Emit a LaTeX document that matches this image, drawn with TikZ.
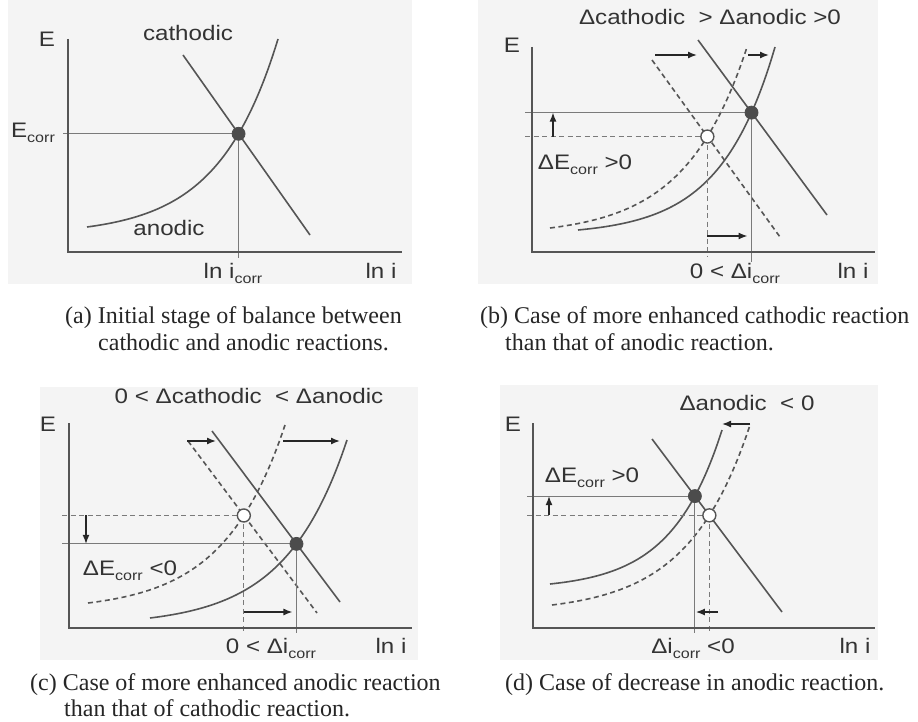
\documentclass[tikz,border=0pt]{standalone}
\usepackage{graphicx}
\usepackage{fontspec}
\setmainfont{Liberation Sans}
\newfontfamily\capfont{Liberation Serif}
\usetikzlibrary{intersections,arrows.meta}
\definecolor{curvec}{HTML}{555555}
\definecolor{guidec}{HTML}{7A7A7A}
\definecolor{txtc}{HTML}{333333}
\definecolor{bgc}{HTML}{F4F4F4}
\newcommand{\lbl}[1]{\scalebox{1.15}[1]{\fontsize{21}{25}\selectfont #1}}
\newcommand{\sbc}{\raisebox{-5pt}{\fontsize{14}{14}\selectfont corr}}
\newcommand{\capt}[1]{{\capfont\fontsize{24}{27}\selectfont #1}}
\begin{document}
\begin{tikzpicture}[x=1pt, y=-1pt,
  curve/.style={draw=curvec, line width=1.6pt},
  dcurve/.style={curve, dash pattern=on 5pt off 3.5pt},
  axis/.style={draw=curvec, line width=2pt},
  guide/.style={draw=guidec, line width=1.1pt},
  dguide/.style={guide, dash pattern=on 5pt off 3.5pt},
  arr/.style={draw=black!85, line width=1.4pt, -{Latex[length=9pt,width=7pt]}},
  lab/.style={text=txtc, inner sep=0pt, anchor=base},
  capnode/.style={text=black!85, inner sep=0pt, anchor=base west},
  fdot/.style={circle, fill=curvec!90!black, draw=black!70, line width=0.8pt, minimum size=13pt, inner sep=0pt},
  odot/.style={circle, fill=white, draw=curvec, line width=1.4pt, minimum size=13pt, inner sep=0pt}]
\useasboundingbox (0,0) rectangle (918,722);
\fill[white] (0,0) rectangle (918,722);
% backgrounds
\fill[bgc] (8,0) rectangle (412,284);
\fill[bgc] (478,0) rectangle (878,284);
\fill[bgc] (40,387) rectangle (418,660);
\fill[bgc] (500,385) rectangle (878,660);

% ================= panel (a)
\coordinate (aYt) at (68,39); \coordinate (aO) at (68,252); \coordinate (aXr) at (402,252);
\coordinate (aL) at (63,0); \coordinate (aB) at (0,258);
\draw[curve, name path=aca] (183,55) -- (310,235);
\draw[curve, name path=aan] plot[domain=87:278, samples=70, smooth] (\x,{227-(227-39)*(exp(3.2*(\x-87)/(278-87))-1)/(exp(3.2)-1)});
\path[name intersections={of=aca and aan, by=aP}];
\draw[guide] (aL |- aP) -- (aP);
\draw[guide] (aP) -- (aP |- aB);
\draw[axis] (aYt) -- (aO) -- (aXr);
\node[fdot] (aDot) at (aP) {};
\node[lab] (aE) at (47,47) {\lbl{E}};
\node[lab] (aCat) at (188,41) {\lbl{cathodic}};
\node[lab] (aEc) at (33,138) {\lbl{E\sbc}};
\node[lab] (aAn) at (169,235) {\lbl{anodic}};
\node[lab] (aLic) at (233,278) {\lbl{ln i\sbc}};
\node[lab] (aLi) at (381,278) {\lbl{ln i}};

% ================= panel (b)
\coordinate (bYt) at (532,47); \coordinate (bO) at (532,252); \coordinate (bXr) at (875,252);
\coordinate (bL) at (525,0); \coordinate (bB) at (0,262); \coordinate (bB2) at (0,257);
\draw[curve, name path=bcs] (698,40) -- (827,215);
\draw[dcurve, name path=bcd] (652,60) -- (780,237);
\draw[curve, name path=bas] plot[domain=578:775, samples=70, smooth] (\x,{230-(230-47)*(exp(3.6*(\x-578)/(775-578))-1)/(exp(3.6)-1)});
\draw[dcurve, name path=bad] plot[domain=550:747, samples=70, smooth] (\x,{228-(228-47)*(exp(3.2*(\x-550)/(747-550))-1)/(exp(3.2)-1)});
\path[name intersections={of=bcs and bas, by=bF}];
\path[name intersections={of=bcd and bad, by=bOp}];
\draw[guide] (bL |- bF) -- (bF);
\draw[guide] (bF) -- (bF |- bB);
\draw[dguide] (bL |- bOp) -- (bOp);
\draw[dguide] (bOp) -- (bOp |- bB2);
\draw[axis] (bYt) -- (bO) -- (bXr);
\coordinate (bUp) at (553,0); \coordinate (bAr) at (0,236);
\draw[arr] (bUp |- bOp) -- (bUp |- bF);
\draw[arr, shorten >=4pt] (bOp |- bAr) -- (bF |- bAr);
\coordinate (bT1s) at (655,55); \coordinate (bT1e) at (697,55);
\coordinate (bT2s) at (748,55); \coordinate (bT2e) at (769,55);
\draw[arr] (bT1s) -- (bT1e);
\draw[arr] (bT2s) -- (bT2e);
\node[fdot] (bDotF) at (bF) {};
\node[odot] (bDotO) at (bOp) {};
\node[lab] (bTitle) at (710,25) {\lbl{Δcathodic~~> Δanodic >0}};
\node[lab] (bE) at (512,53) {\lbl{E}};
\node[lab] (bdE) at (585,170) {\lbl{ΔE\sbc{} >0}};
\node[lab] (bdi) at (735,278) {\lbl{0 < Δi\sbc}};
\node[lab] (bLi) at (853,278) {\lbl{ln i}};

% ================= panel (c)
\coordinate (cYt) at (69,423); \coordinate (cO) at (69,628); \coordinate (cXr) at (412,628);
\coordinate (cL) at (62,0); \coordinate (cB) at (0,633);
\draw[curve, name path=ccs] (212,431) -- (340,602);
\draw[dcurve, name path=ccd] (188,441) -- (317,613);
\draw[curve, name path=cas] plot[domain=150:347, samples=70, smooth] (\x,{618-(618-440)*(exp(3.2*(\x-150)/(347-150))-1)/(exp(3.2)-1)});
\draw[dcurve, name path=cad] plot[domain=88:285, samples=70, smooth] (\x,{603-(603-425)*(exp(3.2*(\x-88)/(285-88))-1)/(exp(3.2)-1)});
\path[name intersections={of=ccs and cas, by=cF}];
\path[name intersections={of=ccd and cad, by=cOp}];
\draw[guide] (cL |- cF) -- (cF);
\draw[guide] (cF) -- (cF |- cB);
\draw[dguide] (cL |- cOp) -- (cOp);
\draw[dguide] (cOp) -- (cOp |- cB);
\draw[axis] (cYt) -- (cO) -- (cXr);
\coordinate (cDn) at (86,0); \coordinate (cAr) at (0,612);
\draw[arr] (cDn |- cOp) -- (cDn |- cF);
\draw[arr, shorten >=4pt] (cOp |- cAr) -- (cF |- cAr);
\coordinate (cT1s) at (187,441); \coordinate (cT1e) at (216,441);
\coordinate (cT2s) at (283,441); \coordinate (cT2e) at (340,441);
\draw[arr] (cT1s) -- (cT1e);
\draw[arr] (cT2s) -- (cT2e);
\node[fdot] (cDotF) at (cF) {};
\node[odot] (cDotO) at (cOp) {};
\node[lab] (cTitle) at (249,403) {\lbl{0 < Δcathodic~~< Δanodic}};
\node[lab] (cE) at (48,431) {\lbl{E}};
\node[lab] (cdE) at (130,575) {\lbl{ΔE\sbc{} <0}};
\node[lab] (cdi) at (271,653) {\lbl{0 < Δi\sbc}};
\node[lab] (cLi) at (391,653) {\lbl{ln i}};

% ================= panel (d)
\coordinate (dYt) at (533,423); \coordinate (dO) at (533,628); \coordinate (dXr) at (875,628);
\coordinate (dL) at (527,0); \coordinate (dB) at (0,633);
\draw[curve, name path=dcs] (652,439) -- (782,612);
\draw[curve, name path=das] plot[domain=550:722, samples=70, smooth] (\x,{584-(584-430)*(exp(3.4*(\x-550)/(722-550))-1)/(exp(3.4)-1)});
\draw[dcurve, name path=dad] plot[domain=552:750, samples=70, smooth] (\x,{605-(605-425)*(exp(3.2*(\x-552)/(750-552))-1)/(exp(3.2)-1)});
\path[name intersections={of=dcs and das, by=dF}];
\path[name intersections={of=dcs and dad, by=dOp}];
\draw[guide] (dL |- dF) -- (dF);
\draw[guide] (dF) -- (dF |- dB);
\draw[dguide] (dL |- dOp) -- (dOp);
\draw[dguide] (dOp) -- (dOp |- dB);
\draw[axis] (dYt) -- (dO) -- (dXr);
\coordinate (dUp) at (549,0); \coordinate (dArS) at (718,612);
\draw[arr] (dUp |- dOp) -- (dUp |- dF);
\draw[arr, shorten >=1pt] (dArS) -- (dF |- dArS);
\coordinate (dT1s) at (750,424); \coordinate (dT1e) at (722,424);
\draw[arr] (dT1s) -- (dT1e);
\node[fdot] (dDotF) at (dF) {};
\node[odot] (dDotO) at (dOp) {};
\node[lab] (dTitle) at (747,410) {\lbl{Δanodic~~< 0}};
\node[lab] (dE) at (513,431) {\lbl{E}};
\node[lab] (ddE) at (592,482) {\lbl{ΔE\sbc{} >0}};
\node[lab] (ddi) at (693,653) {\lbl{Δi\sbc{} <0}};
\node[lab] (dLi) at (855,653) {\lbl{ln i}};

% ================= captions
\node[capnode] (capa1) at (65,323) {\capt{(a) Initial stage of balance between}};
\node[capnode] (capa2) at (98,350) {\capt{cathodic and anodic reactions.}};
\node[capnode] (capb1) at (480,323) {\capt{(b) Case of more enhanced cathodic reaction}};
\node[capnode] (capb2) at (505,350) {\capt{than that of anodic reaction.}};
\node[capnode] (capc1) at (30,690) {\capt{(c) Case of more enhanced anodic reaction}};
\node[capnode] (capc2) at (64,716) {\capt{than that of cathodic reaction.}};
\node[capnode] (capd1) at (505,690) {\capt{(d) Case of decrease in anodic reaction.}};
\end{tikzpicture}
\end{document}
